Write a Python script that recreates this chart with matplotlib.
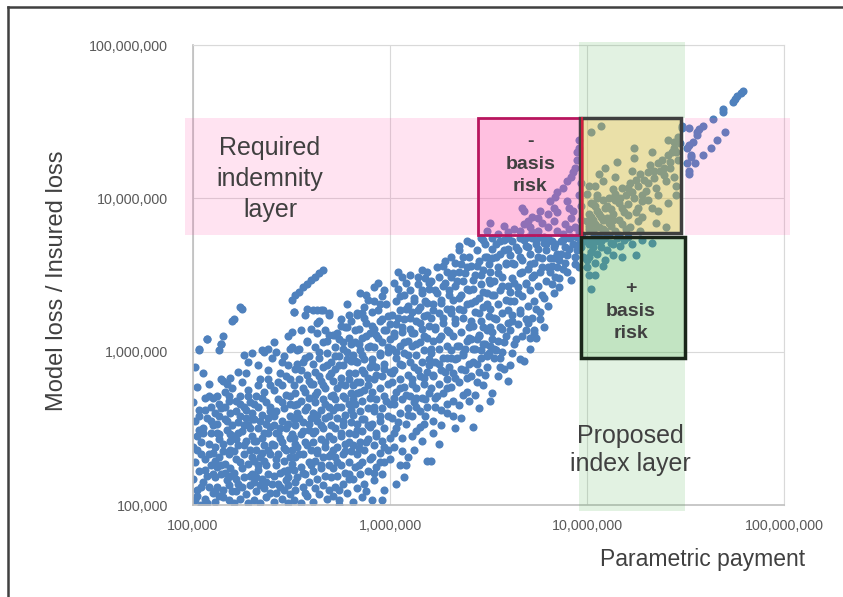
import matplotlib.pyplot as plt
import matplotlib.patches as mpatches
from matplotlib.ticker import FuncFormatter, FixedLocator
import numpy as np

# losses vs payments, stored as log10 values (x = payment, y = loss)
main_cloud = [
    (5.01, 5.03), (5.02, 5.10), (5.00, 5.17), (5.03, 5.22), (5.01, 5.28), (5.04, 5.33), (5.00, 5.38), (5.02, 5.45),
    (5.05, 5.50), (5.01, 5.55), (5.03, 5.62), (5.00, 5.67), (5.06, 5.70), (5.02, 5.77), (5.01, 5.90), (5.03, 6.01),
    (5.07, 6.08), (5.06, 5.04), (5.08, 5.12), (5.07, 5.19), (5.09, 5.26), (5.06, 5.30), (5.08, 5.40), (5.09, 5.47),
    (5.07, 5.57), (5.09, 5.64), (5.05, 5.15), (5.04, 5.41), (5.08, 5.79), (5.10, 5.34), (5.10, 5.52), (5.10, 5.08),
    (5.04, 5.00), (5.07, 5.01), (5.02, 5.06),
    (5.11, 5.02), (5.13, 5.06), (5.12, 5.12), (5.15, 5.10), (5.11, 5.18), (5.14, 5.20), (5.17, 5.16), (5.12, 5.25),
    (5.16, 5.27), (5.19, 5.24), (5.13, 5.31), (5.18, 5.33), (5.11, 5.38), (5.15, 5.40), (5.19, 5.42), (5.13, 5.46),
    (5.17, 5.49), (5.12, 5.53), (5.16, 5.56), (5.19, 5.60), (5.14, 5.63), (5.18, 5.68), (5.12, 5.71), (5.16, 5.74),
    (5.14, 5.82), (5.14, 6.05), (5.15, 6.10), (5.18, 5.03), (5.20, 5.09), (5.19, 5.36), (5.13, 5.66), (5.17, 5.79),
    (5.20, 5.52), (5.11, 5.60), (5.16, 5.21),
    (5.21, 5.01), (5.24, 5.04), (5.22, 5.09), (5.27, 5.07), (5.23, 5.14), (5.26, 5.18), (5.29, 5.13), (5.21, 5.21),
    (5.25, 5.24), (5.28, 5.27), (5.22, 5.30), (5.26, 5.33), (5.29, 5.36), (5.23, 5.39), (5.27, 5.42), (5.21, 5.45),
    (5.25, 5.48), (5.29, 5.50), (5.23, 5.54), (5.27, 5.57), (5.22, 5.61), (5.26, 5.64), (5.29, 5.67), (5.24, 5.71),
    (5.28, 5.75), (5.25, 5.80), (5.21, 6.21), (5.25, 6.28), (5.28, 5.01), (5.30, 5.20), (5.24, 5.58), (5.30, 5.45),
    (5.22, 5.68), (5.27, 5.86), (5.30, 5.60),
    (5.31, 5.03), (5.34, 5.01), (5.37, 5.05), (5.32, 5.09), (5.36, 5.11), (5.39, 5.08), (5.31, 5.15), (5.35, 5.17),
    (5.38, 5.20), (5.33, 5.23), (5.37, 5.26), (5.31, 5.29), (5.34, 5.31), (5.39, 5.33), (5.32, 5.36), (5.36, 5.39),
    (5.31, 5.42), (5.35, 5.44), (5.38, 5.47), (5.33, 5.50), (5.37, 5.53), (5.31, 5.56), (5.35, 5.59), (5.39, 5.61),
    (5.33, 5.64), (5.37, 5.67), (5.32, 5.71), (5.36, 5.74), (5.39, 5.78), (5.34, 5.82), (5.38, 5.88), (5.40, 5.96),
    (5.36, 6.00), (5.40, 5.14), (5.40, 5.40), (5.38, 5.57), (5.34, 5.13),
    (5.41, 5.02), (5.45, 5.04), (5.48, 5.01), (5.42, 5.08), (5.46, 5.10), (5.49, 5.07), (5.43, 5.14), (5.47, 5.16),
    (5.41, 5.19), (5.44, 5.21), (5.48, 5.23), (5.42, 5.26), (5.46, 5.29), (5.49, 5.31), (5.43, 5.33), (5.47, 5.36),
    (5.41, 5.39), (5.45, 5.41), (5.49, 5.44), (5.43, 5.47), (5.47, 5.50), (5.41, 5.52), (5.45, 5.55), (5.49, 5.58),
    (5.42, 5.61), (5.46, 5.63), (5.49, 5.66), (5.43, 5.69), (5.47, 5.72), (5.41, 5.75), (5.45, 5.78), (5.49, 5.82),
    (5.44, 5.86), (5.48, 5.91), (5.46, 5.97), (5.50, 6.03), (5.48, 5.13), (5.50, 5.36), (5.44, 5.50),
    (5.51, 5.03), (5.55, 5.01), (5.58, 5.06), (5.52, 5.10), (5.56, 5.12), (5.59, 5.15), (5.53, 5.18), (5.57, 5.20),
    (5.51, 5.23), (5.55, 5.25), (5.59, 5.28), (5.52, 5.31), (5.56, 5.33), (5.60, 5.36), (5.53, 5.38), (5.57, 5.41),
    (5.51, 5.44), (5.55, 5.46), (5.59, 5.49), (5.52, 5.52), (5.56, 5.54), (5.60, 5.57), (5.53, 5.60), (5.57, 5.62),
    (5.51, 5.65), (5.55, 5.68), (5.59, 5.70), (5.52, 5.73), (5.56, 5.76), (5.60, 5.79), (5.54, 5.82), (5.58, 5.85),
    (5.52, 5.89), (5.56, 5.93), (5.59, 5.97), (5.54, 6.02), (5.58, 6.07), (5.51, 6.26), (5.50, 6.34), (5.52, 6.37),
    (5.54, 6.39), (5.56, 6.42), (5.58, 6.44), (5.55, 6.14), (5.57, 5.08),
    (5.61, 5.02), (5.64, 5.07), (5.68, 5.04), (5.62, 5.11), (5.66, 5.13), (5.69, 5.10), (5.63, 5.17), (5.67, 5.19),
    (5.61, 5.22), (5.65, 5.24), (5.69, 5.26), (5.62, 5.29), (5.66, 5.31), (5.70, 5.33), (5.63, 5.36), (5.67, 5.38),
    (5.61, 5.41), (5.65, 5.43), (5.69, 5.45), (5.62, 5.48), (5.66, 5.50), (5.70, 5.52), (5.63, 5.55), (5.67, 5.57),
    (5.61, 5.60), (5.65, 5.62), (5.69, 5.64), (5.62, 5.67), (5.66, 5.69), (5.70, 5.71), (5.63, 5.74), (5.67, 5.76),
    (5.61, 5.79), (5.65, 5.81), (5.69, 5.84), (5.62, 5.87), (5.66, 5.90), (5.70, 5.93), (5.64, 5.96), (5.68, 5.99),
    (5.62, 6.03), (5.66, 6.06), (5.69, 6.11), (5.64, 6.20), (5.66, 6.27), (5.69, 6.25), (5.61, 6.27), (5.60, 6.47),
    (5.62, 6.49), (5.64, 6.51), (5.66, 6.53),
    (5.71, 5.06), (5.74, 5.03), (5.78, 5.08), (5.72, 5.12), (5.76, 5.14), (5.79, 5.17), (5.73, 5.19), (5.77, 5.21),
    (5.71, 5.24), (5.75, 5.26), (5.79, 5.28), (5.72, 5.31), (5.76, 5.33), (5.80, 5.35), (5.73, 5.38), (5.77, 5.40),
    (5.71, 5.43), (5.75, 5.45), (5.79, 5.47), (5.72, 5.50), (5.76, 5.52), (5.80, 5.54), (5.73, 5.57), (5.77, 5.59),
    (5.71, 5.62), (5.75, 5.64), (5.79, 5.66), (5.72, 5.69), (5.76, 5.71), (5.80, 5.73), (5.73, 5.76), (5.77, 5.78),
    (5.71, 5.81), (5.75, 5.83), (5.79, 5.86), (5.72, 5.89), (5.76, 5.91), (5.80, 5.94), (5.74, 5.97), (5.78, 6.00),
    (5.72, 6.03), (5.76, 6.06), (5.79, 6.09), (5.73, 6.12), (5.77, 6.16), (5.75, 6.21), (5.79, 6.24), (5.74, 5.00),
    (5.78, 6.31),
    (5.81, 5.02), (5.86, 5.05), (5.83, 5.11), (5.87, 5.14), (5.81, 5.17), (5.85, 5.20), (5.89, 5.22), (5.82, 5.25),
    (5.86, 5.28), (5.90, 5.30), (5.83, 5.33), (5.87, 5.36), (5.81, 5.39), (5.85, 5.41), (5.89, 5.43), (5.82, 5.46),
    (5.86, 5.48), (5.90, 5.51), (5.83, 5.53), (5.87, 5.56), (5.81, 5.59), (5.85, 5.61), (5.89, 5.63), (5.82, 5.66),
    (5.86, 5.68), (5.90, 5.70), (5.83, 5.73), (5.87, 5.75), (5.81, 5.78), (5.85, 5.80), (5.89, 5.83), (5.82, 5.86),
    (5.86, 5.88), (5.90, 5.90), (5.83, 5.93), (5.87, 5.95), (5.81, 5.98), (5.85, 6.01), (5.89, 6.03), (5.82, 6.06),
    (5.86, 6.09), (5.90, 6.12), (5.84, 6.15), (5.88, 6.19), (5.83, 6.24), (5.87, 6.29), (5.85, 6.38), (5.89, 6.34),
    (5.91, 5.03), (5.96, 5.03), (5.97, 5.10), (5.92, 5.16), (5.96, 5.20), (5.93, 5.25), (5.97, 5.28), (5.91, 5.31),
    (5.95, 5.34), (5.99, 5.36), (5.92, 5.39), (5.96, 5.42), (6.00, 5.44), (5.93, 5.47), (5.97, 5.50), (5.91, 5.53),
    (5.95, 5.55), (5.99, 5.58), (5.92, 5.61), (5.96, 5.63), (6.00, 5.66), (5.93, 5.69), (5.97, 5.71), (5.91, 5.74),
    (5.95, 5.76), (5.99, 5.79), (5.92, 5.82), (5.96, 5.84), (6.00, 5.87), (5.93, 5.90), (5.97, 5.92), (5.91, 5.95),
    (5.95, 5.98), (5.99, 6.00), (5.92, 6.03), (5.96, 6.06), (6.00, 6.08), (5.93, 6.11), (5.97, 6.14), (5.91, 6.17),
    (5.95, 6.20), (5.99, 6.23), (5.94, 6.27), (5.98, 6.31), (5.96, 6.36), (5.92, 6.42),
    (6.03, 5.14), (6.07, 5.18), (6.08, 5.26), (6.09, 5.31), (6.02, 5.38), (6.06, 5.44), (6.03, 5.50), (6.08, 5.53),
    (6.01, 5.57), (6.05, 5.60), (6.09, 5.63), (6.02, 5.66), (6.06, 5.69), (6.10, 5.71), (6.03, 5.74), (6.07, 5.77),
    (6.01, 5.80), (6.05, 5.82), (6.09, 5.85), (6.02, 5.88), (6.06, 5.91), (6.10, 5.93), (6.03, 5.96), (6.07, 5.99),
    (6.01, 6.02), (6.05, 6.04), (6.09, 6.07), (6.02, 6.10), (6.06, 6.13), (6.10, 6.15), (6.03, 6.18), (6.07, 6.21),
    (6.01, 6.24), (6.05, 6.27), (6.09, 6.30), (6.03, 6.33), (6.07, 6.37), (6.04, 6.41), (6.08, 6.45), (6.06, 6.49),
    (6.12, 5.36), (6.16, 5.42), (6.19, 5.29), (6.13, 5.48), (6.17, 5.53), (6.11, 5.58), (6.15, 5.61), (6.19, 5.64),
    (6.12, 5.67), (6.16, 5.70), (6.20, 5.73), (6.13, 5.76), (6.17, 5.79), (6.11, 5.82), (6.15, 5.84), (6.19, 5.87),
    (6.12, 5.90), (6.16, 5.93), (6.20, 5.95), (6.13, 5.98), (6.17, 6.01), (6.11, 6.04), (6.15, 6.06), (6.19, 6.09),
    (6.12, 6.12), (6.16, 6.15), (6.20, 6.17), (6.13, 6.20), (6.17, 6.23), (6.11, 6.26), (6.15, 6.29), (6.19, 6.32),
    (6.12, 6.35), (6.16, 6.38), (6.20, 6.41), (6.14, 6.44), (6.18, 6.48), (6.16, 6.53),
    (6.21, 5.29), (6.25, 5.40), (6.22, 5.55), (6.26, 5.62), (6.29, 5.66), (6.23, 5.70), (6.27, 5.73), (6.21, 5.76),
    (6.25, 5.79), (6.29, 5.82), (6.22, 5.85), (6.26, 5.88), (6.30, 5.90), (6.23, 5.93), (6.27, 5.96), (6.21, 5.99),
    (6.25, 6.02), (6.29, 6.04), (6.22, 6.07), (6.26, 6.10), (6.30, 6.13), (6.23, 6.16), (6.27, 6.19), (6.21, 6.22),
    (6.25, 6.25), (6.29, 6.28), (6.22, 6.31), (6.26, 6.34), (6.30, 6.37), (6.23, 6.40), (6.27, 6.43), (6.21, 6.46),
    (6.25, 6.49), (6.29, 6.52), (6.24, 6.55), (6.28, 6.59),
    (6.33, 5.50), (6.36, 5.57), (6.32, 5.68), (6.37, 5.72), (6.31, 5.77), (6.35, 5.80), (6.39, 5.83), (6.32, 5.86),
    (6.36, 5.89), (6.40, 5.92), (6.33, 5.95), (6.37, 5.98), (6.31, 6.01), (6.35, 6.04), (6.39, 6.07), (6.32, 6.10),
    (6.36, 6.13), (6.40, 6.16), (6.33, 6.19), (6.37, 6.22), (6.31, 6.25), (6.35, 6.28), (6.39, 6.31), (6.32, 6.34),
    (6.36, 6.37), (6.40, 6.40), (6.33, 6.43), (6.37, 6.46), (6.31, 6.49), (6.35, 6.52), (6.39, 6.55), (6.33, 6.58),
    (6.37, 6.62), (6.35, 6.66),
    (6.42, 5.51), (6.45, 5.63), (6.43, 5.72), (6.47, 5.78), (6.41, 5.84), (6.45, 5.87), (6.49, 5.90), (6.42, 5.93),
    (6.46, 5.96), (6.50, 5.99), (6.43, 6.02), (6.47, 6.05), (6.41, 6.08), (6.45, 6.11), (6.49, 6.14), (6.42, 6.17),
    (6.46, 6.20), (6.50, 6.23), (6.43, 6.26), (6.47, 6.29), (6.41, 6.32), (6.45, 6.35), (6.49, 6.38), (6.42, 6.41),
    (6.46, 6.44), (6.50, 6.47), (6.43, 6.50), (6.47, 6.53), (6.41, 6.56), (6.45, 6.59), (6.49, 6.62), (6.44, 6.66),
    (6.48, 6.70), (6.46, 6.74),
    (6.51, 5.68), (6.52, 5.73), (6.56, 5.90), (6.53, 5.96), (6.57, 6.00), (6.51, 6.04), (6.55, 6.07), (6.59, 6.10),
    (6.52, 6.13), (6.56, 6.16), (6.60, 6.19), (6.53, 6.22), (6.57, 6.25), (6.51, 6.28), (6.55, 6.31), (6.59, 6.34),
    (6.52, 6.37), (6.56, 6.40), (6.60, 6.43), (6.53, 6.46), (6.57, 6.49), (6.51, 6.52), (6.55, 6.55), (6.59, 6.58),
    (6.52, 6.61), (6.56, 6.64), (6.60, 6.67), (6.54, 6.70), (6.58, 6.73), (6.52, 6.74),
    (6.60, 5.81), (6.68, 5.94), (6.63, 6.05), (6.67, 6.10), (6.61, 6.14), (6.65, 6.18), (6.69, 6.21), (6.62, 6.24),
    (6.66, 6.27), (6.70, 6.30), (6.63, 6.33), (6.67, 6.36), (6.61, 6.39), (6.65, 6.42), (6.69, 6.45), (6.62, 6.48),
    (6.66, 6.51), (6.70, 6.54), (6.63, 6.57), (6.67, 6.60), (6.61, 6.63), (6.65, 6.66), (6.69, 6.69), (6.62, 6.72),
    (6.66, 6.74), (6.70, 6.75),
    (6.71, 6.09), (6.73, 6.12), (6.78, 6.16), (6.72, 6.22), (6.76, 6.26), (6.80, 6.30), (6.73, 6.33), (6.77, 6.37),
    (6.71, 6.40), (6.75, 6.43), (6.79, 6.46), (6.72, 6.49), (6.76, 6.52), (6.80, 6.55), (6.73, 6.58), (6.77, 6.61),
    (6.71, 6.64), (6.75, 6.67), (6.79, 6.70), (6.74, 6.73), (6.78, 6.75),
    (6.83, 6.38), (6.82, 6.44), (6.86, 6.48), (6.81, 6.52), (6.85, 6.55), (6.89, 6.58), (6.83, 6.61), (6.87, 6.64),
    (6.91, 6.67), (6.84, 6.70), (6.88, 6.73), (6.92, 6.75), (6.94, 6.62), (6.90, 6.52), (6.96, 6.70), (6.98, 6.74),
    (6.95, 6.66), (6.86, 6.42),
]

# denser core of the cloud
core_cloud = [
    (5.02, 5.36), (5.05, 5.47), (5.03, 5.58), (5.06, 5.23), (5.08, 5.33), (5.04, 5.12), (5.11, 5.29), (5.13, 5.43),
    (5.15, 5.35), (5.17, 5.55), (5.12, 5.47), (5.18, 5.13), (5.14, 5.26), (5.19, 5.46), (5.16, 5.64), (5.09, 5.55),
    (5.06, 5.62), (5.03, 5.49), (5.10, 5.20), (5.13, 5.58), (5.18, 5.71), (5.15, 5.05), (5.19, 5.19), (5.11, 5.09),
    (5.08, 5.71),
    (5.22, 5.17), (5.24, 5.28), (5.26, 5.39), (5.23, 5.47), (5.28, 5.52), (5.30, 5.31), (5.32, 5.42), (5.34, 5.55),
    (5.36, 5.47), (5.38, 5.36), (5.27, 5.62), (5.31, 5.66), (5.35, 5.70), (5.39, 5.64), (5.21, 5.35), (5.25, 5.12),
    (5.29, 5.19), (5.33, 5.26), (5.37, 5.15), (5.24, 5.66), (5.28, 5.71), (5.33, 5.78), (5.38, 5.82), (5.26, 5.52),
    (5.30, 5.56), (5.35, 5.34), (5.39, 5.51), (5.22, 5.43), (5.36, 5.29), (5.32, 5.18),
    (5.42, 5.30), (5.44, 5.44), (5.46, 5.37), (5.48, 5.53), (5.50, 5.46), (5.52, 5.40), (5.54, 5.57), (5.56, 5.48),
    (5.58, 5.64), (5.41, 5.58), (5.45, 5.67), (5.49, 5.71), (5.53, 5.66), (5.57, 5.74), (5.43, 5.80), (5.47, 5.84),
    (5.51, 5.78), (5.55, 5.88), (5.59, 5.81), (5.42, 5.47), (5.46, 5.22), (5.50, 5.27), (5.54, 5.33), (5.58, 5.39),
    (5.44, 5.12), (5.48, 5.18), (5.52, 5.15), (5.56, 5.21), (5.60, 5.26), (5.53, 5.92), (5.57, 5.96), (5.51, 5.56),
    (5.59, 5.53),
    (5.61, 5.47), (5.63, 5.59), (5.65, 5.52), (5.67, 5.66), (5.69, 5.58), (5.71, 5.72), (5.73, 5.64), (5.75, 5.79),
    (5.77, 5.70), (5.79, 5.82), (5.62, 5.72), (5.64, 5.84), (5.66, 5.78), (5.68, 5.91), (5.70, 5.86), (5.72, 5.97),
    (5.74, 5.91), (5.76, 6.02), (5.78, 5.95), (5.80, 6.05), (5.63, 5.34), (5.67, 5.41), (5.71, 5.36), (5.75, 5.47),
    (5.79, 5.41), (5.65, 5.26), (5.69, 5.32), (5.73, 5.28), (5.77, 5.35), (5.61, 5.92), (5.64, 6.00), (5.68, 6.07),
    (5.72, 6.11), (5.76, 5.55), (5.80, 5.62),
    (5.81, 5.69), (5.83, 5.80), (5.85, 5.74), (5.87, 5.86), (5.89, 5.78), (5.91, 5.92), (5.93, 5.85), (5.95, 5.99),
    (5.97, 5.89), (5.99, 6.03), (5.82, 5.94), (5.84, 6.05), (5.86, 5.98), (5.88, 6.10), (5.90, 6.04), (5.92, 6.15),
    (5.94, 6.09), (5.96, 6.21), (5.98, 6.14), (6.00, 6.18), (5.83, 5.49), (5.86, 5.56), (5.89, 5.52), (5.92, 5.64),
    (5.95, 5.58), (5.98, 5.68), (5.84, 5.37), (5.88, 5.41), (5.93, 5.45), (5.97, 5.38), (5.82, 6.14), (5.87, 6.22),
    (5.91, 6.26), (5.95, 6.31),
    (6.01, 5.86), (6.03, 6.00), (6.05, 5.92), (6.07, 6.06), (6.09, 5.98), (6.11, 6.12), (6.13, 6.05), (6.15, 6.19),
    (6.17, 6.10), (6.19, 6.24), (6.02, 6.12), (6.04, 6.22), (6.06, 6.16), (6.08, 6.28), (6.10, 6.22), (6.12, 6.33),
    (6.14, 6.27), (6.16, 6.40), (6.18, 6.33), (6.20, 6.45), (6.02, 5.70), (6.05, 5.76), (6.08, 5.72), (6.11, 5.79),
    (6.14, 5.88), (6.17, 5.83), (6.20, 5.91), (6.04, 5.54), (6.09, 5.59), (6.13, 5.64), (6.18, 5.69), (6.05, 6.36),
    (6.10, 6.40), (6.14, 6.49), (6.19, 6.52),
    (6.21, 6.02), (6.23, 6.15), (6.25, 6.08), (6.27, 6.22), (6.29, 6.14), (6.31, 6.28), (6.33, 6.21), (6.35, 6.35),
    (6.37, 6.27), (6.39, 6.41), (6.22, 6.27), (6.24, 6.38), (6.26, 6.32), (6.28, 6.45), (6.30, 6.40), (6.32, 6.51),
    (6.34, 6.46), (6.36, 6.57), (6.38, 6.51), (6.40, 6.62), (6.22, 5.84), (6.25, 5.92), (6.28, 5.87), (6.31, 5.96),
    (6.34, 6.04), (6.37, 5.99), (6.40, 6.09), (6.24, 5.71), (6.29, 5.76), (6.33, 5.83), (6.38, 5.88), (6.27, 6.56),
    (6.31, 6.62), (6.35, 6.69), (6.39, 6.72),
    (6.41, 6.20), (6.43, 6.33), (6.45, 6.25), (6.47, 6.39), (6.49, 6.31), (6.51, 6.45), (6.53, 6.37), (6.55, 6.51),
    (6.57, 6.43), (6.59, 6.57), (6.42, 6.47), (6.44, 6.56), (6.46, 6.50), (6.48, 6.62), (6.50, 6.57), (6.52, 6.67),
    (6.54, 6.62), (6.56, 6.72), (6.58, 6.66), (6.60, 6.74), (6.42, 6.02), (6.45, 6.10), (6.48, 6.05), (6.51, 6.16),
    (6.54, 6.21), (6.57, 6.15), (6.60, 6.27), (6.44, 5.92), (6.49, 5.97), (6.53, 6.02), (6.58, 6.06), (6.41, 6.71),
    (6.47, 6.73),
    (6.61, 6.33), (6.63, 6.45), (6.65, 6.38), (6.67, 6.52), (6.69, 6.44), (6.71, 6.57), (6.73, 6.50), (6.75, 6.62),
    (6.77, 6.55), (6.79, 6.66), (6.62, 6.58), (6.64, 6.68), (6.66, 6.62), (6.68, 6.73), (6.70, 6.68), (6.72, 6.74),
    (6.74, 6.70), (6.76, 6.75), (6.78, 6.71), (6.80, 6.74), (6.62, 6.20), (6.66, 6.25), (6.70, 6.19), (6.74, 6.28),
    (6.78, 6.35), (6.64, 6.08), (6.69, 6.14), (6.76, 6.21),
    (6.81, 6.61), (6.83, 6.68), (6.85, 6.64), (6.87, 6.72), (6.89, 6.68), (6.91, 6.74), (6.93, 6.70), (6.95, 6.75),
    (6.97, 6.68), (6.99, 6.72), (6.82, 6.56), (6.86, 6.60), (6.90, 6.63), (6.94, 6.57), (6.98, 6.62), (6.84, 6.49),
    (6.88, 6.54), (6.92, 6.47), (6.96, 6.55), (6.82, 6.72), (6.89, 6.75),
]

# upper edge of the cloud at small payments
upper_left = [
    (5.24, 6.29), (5.20, 6.20), (5.07, 6.08), (5.03, 6.02), (5.14, 6.05), (5.13, 6.01), (5.51, 6.26), (5.57, 6.24),
    (5.58, 6.28), (5.63, 6.27), (5.65, 6.27), (5.69, 6.24), (5.63, 6.19), (5.63, 6.12), (5.50, 6.13), (5.48, 6.10),
    (5.41, 6.06), (5.38, 6.02), (5.35, 6.01), (5.49, 6.02), (5.53, 6.01), (5.58, 6.06), (5.26, 5.98), (5.30, 5.99),
    (5.23, 5.87), (5.05, 5.86), (5.15, 5.81), (5.19, 5.83), (5.88, 6.37), (5.83, 6.25), (5.86, 6.25), (5.75, 6.17),
    (5.78, 6.16), (5.71, 6.11), (5.74, 6.08), (5.45, 5.93), (5.33, 5.91), (5.20, 5.76), (5.10, 5.70), (5.28, 5.93),
    (5.42, 6.00), (5.60, 6.15), (5.67, 6.14), (5.80, 6.20), (5.92, 6.33), (5.97, 6.40), (6.02, 6.45), (6.10, 6.50),
    (6.04, 6.52), (5.94, 6.45),
]

# lower edge of the cloud at large payments
lower_band = [
    (6.73, 6.14), (6.74, 6.09), (6.71, 6.02), (6.66, 5.95), (6.61, 5.91), (6.56, 5.96), (6.52, 6.08), (6.47, 6.16),
    (6.44, 6.08), (6.46, 6.01), (6.54, 6.01), (6.38, 6.02), (6.29, 5.96), (6.34, 5.96), (6.49, 5.98), (6.02, 5.47),
    (6.06, 5.35), (6.11, 5.45), (6.15, 5.51), (6.26, 5.52), (6.29, 5.60), (6.23, 5.64), (6.18, 5.58), (6.13, 5.70),
    (6.35, 5.65), (6.39, 5.74), (6.44, 5.80), (6.48, 5.85), (5.92, 5.21), (5.95, 5.28), (5.88, 5.09), (5.84, 5.26),
    (5.79, 5.20), (5.74, 5.10), (5.70, 5.18), (6.00, 5.30), (6.05, 5.26), (6.22, 5.47), (6.32, 5.58), (6.40, 5.68),
    (6.55, 5.84), (6.62, 5.99), (6.58, 5.89),
]

# loss above payment, inside the required layer
under_paid = [
    (6.51, 6.84), (6.49, 6.79), (6.67, 6.94), (6.70, 6.85), (6.72, 6.88), (6.76, 6.92), (6.80, 6.90), (6.81, 6.98),
    (6.84, 7.01), (6.85, 7.04), (6.88, 7.07), (6.90, 7.11), (6.92, 7.14), (6.93, 7.17), (6.94, 7.20), (6.95, 7.25),
    (6.95, 7.30), (6.96, 7.33), (6.85, 6.91), (6.91, 6.94), (6.93, 6.92), (6.71, 6.81), (6.77, 6.84), (6.80, 6.81),
    (6.83, 6.85), (6.85, 6.79), (6.89, 6.83), (6.92, 6.87), (6.94, 6.81), (6.75, 6.79), (6.75, 6.87), (6.90, 6.98),
    (6.83, 6.94), (6.68, 6.92), (6.55, 6.77), (6.60, 6.78), (6.63, 6.80), (6.58, 6.82), (6.66, 6.79), (6.68, 6.83),
    (6.72, 6.78), (6.88, 6.77), (6.91, 6.80), (6.96, 6.78), (6.97, 6.86), (6.97, 6.95), (6.96, 7.02), (6.97, 7.10),
    (6.96, 7.38),
]

# both payment and loss inside their layers
in_both = [
    (7.07, 7.47), (7.02, 7.43), (7.15, 7.24), (7.24, 7.33), (7.24, 7.26), (7.33, 7.30), (7.41, 7.38), (7.44, 7.37),
    (7.48, 7.46), (7.45, 7.30), (7.41, 7.28), (7.36, 7.23), (7.34, 7.18), (7.06, 7.16), (7.08, 7.11), (7.14, 7.14),
    (7.23, 7.18), (7.27, 7.16), (7.25, 7.12), (7.31, 7.17), (7.39, 7.15), (7.40, 7.11), (7.45, 7.08), (7.35, 7.07),
    (7.00, 7.03), (7.05, 7.02), (7.13, 7.06), (7.18, 7.07), (7.21, 7.07), (7.28, 7.02), (7.45, 7.02), (7.14, 6.99),
    (7.24, 7.00), (7.31, 6.99), (7.03, 6.96), (7.09, 6.94), (7.18, 6.94), (7.26, 6.94), (7.41, 6.97), (7.36, 6.92),
    (7.01, 6.90), (7.07, 6.88), (7.13, 6.90), (7.21, 6.89), (7.28, 6.88), (7.00, 6.85), (7.04, 6.83), (7.11, 6.84),
    (7.18, 6.83), (7.26, 6.85), (7.35, 6.84), (7.40, 6.81), (7.20, 6.80), (7.09, 6.79), (7.03, 6.79), (7.14, 6.79),
    (7.01, 6.80), (7.03, 6.86), (7.05, 6.92), (7.02, 6.97), (7.06, 6.81), (7.08, 6.86), (7.10, 6.95), (7.04, 7.08),
    (7.12, 6.82), (7.16, 6.86), (7.17, 7.00), (7.20, 7.02), (7.22, 7.10), (7.29, 7.12), (7.32, 7.22), (7.37, 7.18),
    (7.38, 7.25), (7.42, 7.20), (7.43, 7.30), (7.46, 7.25), (7.47, 7.36), (7.44, 7.14), (7.30, 7.05), (7.25, 6.91),
    (7.33, 6.94), (7.01, 6.82), (7.02, 6.88), (7.04, 6.95), (7.06, 6.90), (7.08, 6.99), (7.10, 6.87), (7.12, 6.93),
    (7.14, 7.03), (7.16, 6.97), (7.19, 6.91), (7.21, 6.96), (7.23, 7.04), (7.26, 7.08), (7.28, 6.98), (7.31, 7.10),
    (7.34, 7.13), (7.36, 7.02), (7.39, 7.20), (7.42, 7.24), (7.44, 7.33), (7.46, 7.40), (7.05, 7.00), (7.03, 6.78),
    (7.08, 6.80), (7.13, 6.86), (7.22, 6.81), (7.27, 6.79), (7.11, 7.00), (7.01, 7.08), (7.09, 7.20),
]

# payment inside the index layer, loss below the required layer
over_paid = [
    (7.02, 6.41), (7.00, 6.60), (7.13, 6.63), (7.25, 6.63), (7.33, 6.71), (7.12, 6.71), (7.07, 6.68), (7.09, 6.60),
    (7.01, 6.70), (7.03, 6.74), (7.05, 6.72), (7.02, 6.65), (7.06, 6.75), (7.09, 6.74), (7.15, 6.74), (7.19, 6.73),
    (7.00, 6.55), (7.04, 6.58), (7.01, 6.50), (7.21, 6.75), (7.11, 6.76), (7.17, 6.69), (7.01, 6.62), (7.03, 6.68),
    (7.05, 6.64), (7.07, 6.72), (7.10, 6.66), (7.13, 6.70), (7.16, 6.76), (7.23, 6.70), (7.04, 6.50), (7.08, 6.56),
    (7.18, 6.62), (7.28, 6.73), (7.02, 6.72),
]

# largest events, above the index layer
upper_tail = [
    (7.78, 7.69), (7.76, 7.67), (7.75, 7.65), (7.74, 7.63), (7.69, 7.58), (7.69, 7.56), (7.64, 7.52), (7.59, 7.47),
    (7.57, 7.45), (7.56, 7.41), (7.54, 7.37), (7.52, 7.35), (7.51, 7.33), (7.53, 7.27), (7.51, 7.23), (7.52, 7.18),
    (7.52, 7.16), (7.53, 7.28), (7.55, 7.23), (7.59, 7.28), (7.63, 7.33), (7.66, 7.38), (7.70, 7.43), (7.48, 7.47),
    (7.52, 7.46), (7.56, 7.43), (7.79, 7.70),
]

x_ticks = [1e5, 1e6, 1e7, 1e8]
y_ticks = [1e5, 1e6, 1e7, 1e8]

# layer limits
required_layer = (5.77e6, 3.34e7)
index_layer = (9.1e6, 3.13e7)
minus_box = (2.8e6, 9.4e6, 5.77e6, 3.34e7)
both_box = (9.2e6, 3.0e7, 5.9e6, 3.34e7)
plus_box = (9.3e6, 3.13e7, 9.1e5, 5.6e6)

plt.rcParams['font.family'] = ['Liberation Sans', 'DejaVu Sans']
text_col = '#404040'

fig = plt.figure(figsize=(8.43, 5.97), dpi=100)
ax = fig.add_axes([0.229, 0.1541, 0.701, 0.7705])
ax.set_xscale('log')
ax.set_yscale('log')
ax.set_xlim(1e5, 1e8)
ax.set_ylim(1e5, 1e8)

pts = np.array(main_cloud + core_cloud + upper_left + lower_band + under_paid + in_both + over_paid + upper_tail)
ax.scatter(10 ** pts[:, 0], 10 ** pts[:, 1], s=34, color='#4F81BD', linewidths=0, zorder=2)

pink = (1.0, 85 / 255, 171 / 255)
green = (80 / 255, 180 / 255, 80 / 255)
yellow = (210 / 255, 187 / 255, 62 / 255)


def box(x0, x1, y0, y1, fc, alpha, ec='none', lw=0, z=3):
    r = mpatches.Rectangle((x0, y0), x1 - x0, y1 - y0, facecolor=fc, alpha=alpha,
                           edgecolor='none', zorder=z, clip_on=False)
    ax.add_patch(r)
    if ec != 'none':
        ax.add_patch(mpatches.Rectangle((x0, y0), x1 - x0, y1 - y0, facecolor='none',
                                        edgecolor=ec, lw=lw, zorder=z + 1, clip_on=False))


# shaded layers, kept out of the boxes
lo, hi = required_layer
box(9.1e4, minus_box[0], lo, hi, pink, 0.16)
box(index_layer[1], 1.07e8, lo, hi, pink, 0.16)
box(index_layer[0], index_layer[1], hi, 1.05e8, green, 0.165)
box(index_layer[0], index_layer[1], 9.1e4, plus_box[2], green, 0.165)
box(index_layer[0], plus_box[0], plus_box[2], lo, green, 0.165)

box(*minus_box, pink, 0.37, ec='#B8165E', lw=2)
box(*plus_box, green, 0.35, ec='#1A261A', lw=2.5)
box(both_box[0], both_box[1], both_box[2], both_box[3], yellow, 0.45, ec='#3F3F3F', lw=2.5, z=5)
ax.plot([minus_box[1], minus_box[1]], [minus_box[2], minus_box[3]], color='#D02040', lw=1.5, zorder=7)

# grid and axes
ax.grid(True, which='major', color='#D9D9D9', lw=0.8, zorder=0)
ax.minorticks_off()
for s in ['top', 'right']:
    ax.spines[s].set_color('#D9D9D9')
for s in ['left', 'bottom']:
    ax.spines[s].set_color('#BFBFBF')
    ax.spines[s].set_linewidth(1.2)
ax.set_axisbelow(True)
ax.xaxis.set_major_locator(FixedLocator(x_ticks))
ax.yaxis.set_major_locator(FixedLocator(y_ticks))
fmt = FuncFormatter(lambda v, p: f'{v:,.0f}')
ax.xaxis.set_major_formatter(fmt)
ax.yaxis.set_major_formatter(fmt)
ax.tick_params(length=0, labelsize=10.3, labelcolor='#595959')
ax.tick_params(axis='x', pad=10)
ax.tick_params(axis='y', pad=18)

fig.text(0.068, 0.53, 'Model loss / Insured loss', rotation=90, ha='center', va='center',
         fontsize=17, color=text_col)
fig.text(0.955, 0.062, 'Parametric payment', ha='right', va='center', fontsize=16.5, color=text_col)

ax.text(2.46e5, 1.34e7, 'Required\nindemnity\nlayer', ha='center', va='center', fontsize=18,
        color=text_col, linespacing=1.37, zorder=8)
ax.text(1.66e7, 2.28e5, 'Proposed\nindex layer', ha='center', va='center', fontsize=18,
        color=text_col, linespacing=1.25, zorder=8)
ax.text(5.15e6, 1.67e7, '-\nbasis\nrisk', ha='center', va='center', fontsize=14,
        fontweight='bold', color=text_col, linespacing=1.4, zorder=8)
ax.text(1.67e7, 1.84e6, '+\nbasis\nrisk', ha='center', va='center', fontsize=14,
        fontweight='bold', color=text_col, linespacing=1.45, zorder=8)

# outer frame
fig.add_artist(plt.Line2D([8 / 843, 8 / 843], [0, 1 - 7 / 597], color='#404040', lw=1.8))
fig.add_artist(plt.Line2D([8 / 843, 1], [1 - 7 / 597, 1 - 7 / 597], color='#404040', lw=1.8))

fig.savefig('out.png', dpi=100)
